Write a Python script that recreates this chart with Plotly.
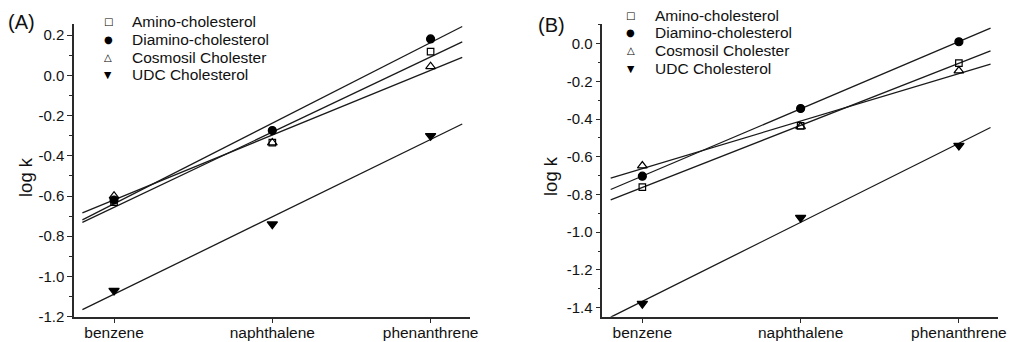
import numpy as np
import plotly.graph_objects as go

# ---------------- data ----------------
compounds = ["benzene", "naphthalene", "phenanthrene"]
compound_pos = [0, 1, 2]
series_names = ["Amino-cholesterol", "Diamino-cholesterol", "Cosmosil Cholester", "UDC Cholesterol"]

# Panel A (log k)
a_amino = [-0.63, -0.335, 0.118]
a_diamino = [-0.62, -0.275, 0.181]
a_cosmosil = [-0.60, -0.335, 0.044]
a_udc = [-1.07, -0.740, -0.301]

# Panel B (log k)
b_amino = [-0.761, -0.436, -0.103]
b_diamino = [-0.703, -0.344, 0.010]
b_cosmosil = [-0.648, -0.440, -0.144]
b_udc = [-1.379, -0.923, -0.541]

a_ticks = [-1.2, -1.0, -0.8, -0.6, -0.4, -0.2, 0.0, 0.2]
a_ticktext = ["-1.2", "-1.0", "-0.8", "-0.6", "-0.4", "-0.2", "0.0", "0.2"]
b_ticks = [-1.4, -1.2, -1.0, -0.8, -0.6, -0.4, -0.2, 0.0]
b_ticktext = ["-1.4", "-1.2", "-1.0", "-0.8", "-0.6", "-0.4", "-0.2", "0.0"]

# ---------------- style ----------------
FONT = "Liberation Sans, Arial, Helvetica, sans-serif"
W, H = 1022, 342
LINE_C = "#1a1a1a"
AX_C = "#2a2a2a"
TXT_C = "#111"
symbols = ["square-open", "circle", "triangle-up-open", "triangle-down"]
sym_sizes = [6.5, 8, 8.5, 9]
glyphs = ["\u25A1", "\u25CF", "\u25B3", "\u25BC"]
glyph_sizes = [10, 10, 10, 9.5]

fig = go.Figure()

panels = [
    ("x", "y", [a_amino, a_diamino, a_cosmosil, a_udc]),
    ("x2", "y2", [b_amino, b_diamino, b_cosmosil, b_udc]),
]

xp = np.array(compound_pos, dtype=float)
ext = np.array([xp.min() - 0.2, xp.max() + 0.2])
for xa, ya, data in panels:
    for i, vals in enumerate(data):
        slope, icpt = np.polyfit(xp, np.array(vals), 1)
        fig.add_trace(go.Scatter(
            x=ext, y=slope * ext + icpt, mode="lines",
            line=dict(color=LINE_C, width=1.3),
            xaxis=xa, yaxis=ya, showlegend=False, hoverinfo="skip"))
    for i, vals in enumerate(data):
        fig.add_trace(go.Scatter(
            x=compound_pos, y=vals, mode="markers", name=series_names[i],
            marker=dict(symbol=symbols[i], size=sym_sizes[i], color="#000",
                        line=dict(color="#000", width=1.2)),
            xaxis=xa, yaxis=ya, showlegend=False))


def px(xpix):
    return xpix / W


def py(ypix):
    return 1 - ypix / H


ydom = [py(316.7), py(24)]
common_x = dict(
    range=[-0.253, 2.249], tickmode="array", tickvals=compound_pos, ticktext=compounds,
    ticks="outside", ticklen=5, tickwidth=1.2, tickcolor=AX_C, ticklabelstandoff=-4,
    showline=True, linewidth=1.5, linecolor=AX_C, showgrid=False, zeroline=False,
    tickfont=dict(family=FONT, size=15.5, color=TXT_C), fixedrange=True,
)
common_y = dict(
    tickmode="array", ticks="outside", ticklen=5, tickwidth=1.2, tickcolor=AX_C,
    showline=True, linewidth=1.5, linecolor=AX_C, showgrid=False, zeroline=False,
    tickfont=dict(family=FONT, size=15, color=TXT_C),
    minor=dict(tickmode="linear", tick0=0, dtick=0.1, ticks="outside", ticklen=3,
               tickwidth=1.2, tickcolor=AX_C, showgrid=False),
    fixedrange=True,
)

fig.update_layout(
    width=W, height=H, autosize=False, margin=dict(l=0, r=0, t=0, b=0, autoexpand=False),
    paper_bgcolor="white", plot_bgcolor="white", showlegend=False,
    xaxis=dict(common_x, domain=[px(74), px(470)], anchor="y"),
    yaxis=dict(common_y, domain=ydom, range=[-1.2, 0.255], tickvals=a_ticks,
               ticktext=a_ticktext, anchor="x"),
    xaxis2=dict(common_x, domain=[px(602.3), px(998.3)], anchor="y2"),
    yaxis2=dict(common_y, domain=ydom, range=[-1.448, 0.104], tickvals=b_ticks,
                ticktext=b_ticktext, anchor="x2"),
)

annots = []
# panel labels
annots.append(dict(text="(A)", x=px(21.5), y=py(22), xref="paper", yref="paper",
                   showarrow=False, xanchor="center", yanchor="middle",
                   font=dict(family=FONT, size=20, color=TXT_C)))
annots.append(dict(text="(B)", x=px(551), y=py(25), xref="paper", yref="paper",
                   showarrow=False, xanchor="center", yanchor="middle",
                   font=dict(family=FONT, size=20, color=TXT_C)))

# y-axis titles
for tx, ty in [(25, 177), (550, 176)]:
    annots.append(dict(text="log k", x=px(tx), y=py(ty), xref="paper", yref="paper",
                       showarrow=False, xanchor="center", yanchor="middle", textangle=-90,
                       font=dict(family=FONT, size=18.5, color=TXT_C)))

# legends (one per panel)
legend_specs = [(108, 129.5, 21.7), (630.7, 653, 15.0)]
ROW = 17.7
for sx, tx, y0 in legend_specs:
    for i, name in enumerate(series_names):
        yy = y0 + i * ROW
        annots.append(dict(text=glyphs[i], x=px(sx), y=py(yy), xref="paper", yref="paper",
                           showarrow=False, xanchor="center", yanchor="middle",
                           font=dict(family="DejaVu Sans", size=glyph_sizes[i], color="#000")))
        annots.append(dict(text=name, x=px(tx), y=py(yy), xref="paper", yref="paper",
                           showarrow=False, xanchor="left", yanchor="middle",
                           font=dict(family=FONT, size=15.5, color=TXT_C)))

fig.update_layout(annotations=annots)
fig.write_html("out.html", config={"displayModeBar": False, "responsive": False},
               post_script="document.body.style.margin='0';document.body.style.overflow='hidden';")
